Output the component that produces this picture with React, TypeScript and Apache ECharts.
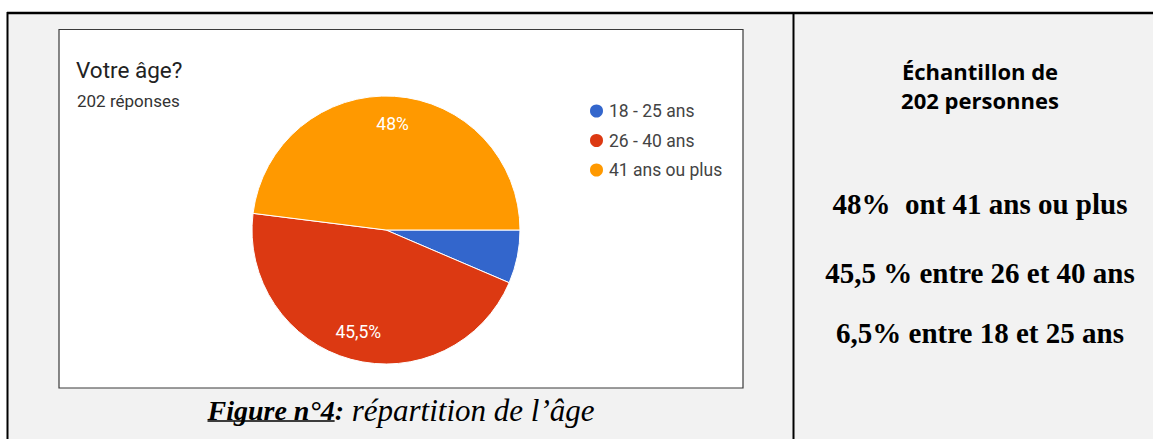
import React, { useEffect, useRef } from "react";
import * as echarts from "echarts";

const categories = ["18 - 25 ans", "26 - 40 ans", "41 ans ou plus"];
const responses = [13, 92, 97];
const sliceLabels = ["6,5%", "45,5%", "48%"];
const sliceColors = ["#3366cc", "#dc3912", "#ff9900"];
const chartTitle = "Votre âge?";
const chartSubtitle = "202 réponses";
const sampleLines = ["Échantillon de", "202 personnes"];
const summaryLines = ["48%  ont 41 ans ou plus", "45,5 % entre 26 et 40 ans", "6,5% entre 18 et 25 ans"];
const captionParts = ["Figure n°4", ":", " répartition de l’âge"];

const W = 1153;
const H = 439;

function measure(text: string, font: string): number {
  const ctx = document.createElement("canvas").getContext("2d");
  if (!ctx) return text.length * 10;
  ctx.font = font;
  return ctx.measureText(text).width;
}

export default function App() {
  const ref = useRef<HTMLDivElement>(null);

  useEffect(() => {
    document.body.style.margin = "0";
    if (!ref.current) return;
    const chart = echarts.init(ref.current, null, { renderer: "svg" });

    const serif = "'Liberation Serif', 'Times New Roman', serif";
    const f1 = `italic bold 28px ${serif}`;
    const f3 = `italic 31px ${serif}`;
    const w1 = measure(captionParts[0], f1);
    const w2 = measure(captionParts[1], f1);
    const w3 = measure(captionParts[2], f3);
    const total = w1 + w2 + w3;
    const capX = 401 - total / 2;
    const capY = 410;

    const graphics: any[] = [
      { type: "rect", z: -10, shape: { x: 8, y: 14, width: W, height: H }, style: { fill: "#f2f2f2" } },
      { type: "line", z: -5, shape: { x1: 7, y1: 13, x2: W, y2: 13 }, style: { stroke: "#000", lineWidth: 2.5 } },
      { type: "line", z: -5, shape: { x1: 7.5, y1: 12, x2: 7.5, y2: H }, style: { stroke: "#000", lineWidth: 2 } },
      { type: "line", z: -5, shape: { x1: 793.5, y1: 12, x2: 793.5, y2: H }, style: { stroke: "#000", lineWidth: 2 } },
      { type: "rect", z: -4, shape: { x: 59, y: 29.5, width: 684, height: 358.5 }, style: { fill: "#fff", stroke: "#3a3a3a", lineWidth: 1.2 } },
      { type: "text", x: 76, y: 70, style: { text: chartTitle, font: "22.5px Roboto, sans-serif", fill: "#222", verticalAlign: "middle" } },
      { type: "text", x: 77, y: 101, style: { text: chartSubtitle, font: "17px Roboto, sans-serif", fill: "#333", verticalAlign: "middle" } },
      { type: "text", x: capX, y: capY, style: { text: captionParts[0], font: f1, fill: "#000", verticalAlign: "middle" } },
      { type: "text", x: capX + w1, y: capY, style: { text: captionParts[1], font: f1, fill: "#000", verticalAlign: "middle" } },
      { type: "text", x: capX + w1 + w2, y: capY, style: { text: captionParts[2], font: f3, fill: "#000", verticalAlign: "middle" } },
      { type: "line", shape: { x1: capX, y1: 421, x2: capX + w1, y2: 421 }, style: { stroke: "#000", lineWidth: 1.5 } },
    ];
    sampleLines.forEach((t, i) => {
      graphics.push({ type: "text", x: 980, y: 71 + i * 29, style: { text: t, font: "bold 22px 'Open Sans', sans-serif", fill: "#000", align: "center", verticalAlign: "middle" } });
    });
    const summaryY = [204, 273, 333];
    summaryLines.forEach((t, i) => {
      graphics.push({ type: "text", x: 980, y: summaryY[i], style: { text: t, font: `bold 29px ${serif}`, fill: "#000", align: "center", verticalAlign: "middle" } });
    });

    const pieData = categories.map((c, i) => ({ name: c, value: responses[i], itemStyle: { color: sliceColors[i] } }));

    chart.setOption({
      animation: false,
      legend: {
        data: categories,
        orient: "vertical",
        left: 583,
        top: 97,
        icon: "circle",
        itemWidth: 15,
        itemHeight: 15,
        itemGap: 11.5,
        textStyle: { fontFamily: "Roboto, sans-serif", fontSize: 17.5, color: "#444" },
        selectedMode: false,
      },
      series: [
        {
          type: "pie",
          center: [386, 230],
          radius: [0, 134],
          startAngle: 0,
          clockwise: true,
          label: { show: false },
          labelLine: { show: false },
          itemStyle: { borderColor: "#fff", borderWidth: 1 },
          emphasis: { disabled: true },
          data: pieData,
        },
        {
          type: "pie",
          center: [386, 230],
          radius: [72, 134],
          startAngle: 0,
          clockwise: true,
          silent: true,
          z: 5,
          itemStyle: { color: "rgba(0,0,0,0)" },
          label: {
            show: true,
            position: "inside",
            fontFamily: "Roboto, sans-serif",
            fontSize: 17.5,
            color: "#fff",
            formatter: (p: any) => (p.dataIndex === 0 ? "" : sliceLabels[p.dataIndex]),
          },
          labelLine: { show: false },
          emphasis: { disabled: true },
          data: categories.map((c, i) => ({ name: c, value: responses[i] })),
        },
      ],
      graphic: graphics,
    });

    return () => chart.dispose();
  }, []);

  return <div ref={ref} style={{ width: W, height: H }} />;
}
